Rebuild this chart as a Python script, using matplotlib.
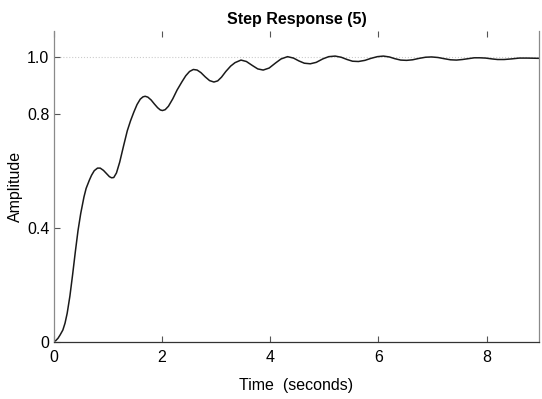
"""
Step response (5) -- scanned textbook figure, redrawn with matplotlib.
"""
import matplotlib
matplotlib.use("Agg")
import matplotlib.pyplot as plt

plt.rcParams.update({
    'font.family': ['Liberation Sans', 'DejaVu Sans'],
    'font.size': 11.5,
})

# Values
time_s = [0.0, 0.04, 0.08, 0.12, 0.17, 0.21, 0.25, 0.3, 0.35, 0.4, 0.45,
          0.5, 0.56, 0.6, 0.66, 0.7, 0.75, 0.81, 0.86, 0.92, 0.98, 1.03,
          1.07, 1.11, 1.16, 1.22, 1.29, 1.36, 1.42, 1.48, 1.54, 1.6, 1.65,
          1.69, 1.74, 1.8, 1.86, 1.92, 1.97, 2.01, 2.06, 2.12, 2.2, 2.28,
          2.37, 2.44, 2.51, 2.58, 2.65, 2.72, 2.8, 2.88, 2.96, 3.03, 3.1,
          3.18, 3.27, 3.35, 3.46, 3.56, 3.67, 3.77, 3.87, 3.98, 4.1, 4.2,
          4.32, 4.43, 4.53, 4.63, 4.74, 4.85, 4.97, 5.08, 5.2, 5.31, 5.42,
          5.52, 5.63, 5.75, 5.86, 5.98, 6.09, 6.2, 6.3, 6.41, 6.52, 6.63,
          6.75, 6.87, 6.98, 7.1, 7.21, 7.33, 7.44, 7.55, 7.66, 7.77, 7.87,
          7.98, 8.1, 8.2, 8.32, 8.45, 8.6, 8.75, 9.0]
amplitude = [0.0, 0.004, 0.012, 0.024, 0.041, 0.065, 0.1, 0.16, 0.235,
             0.315, 0.39, 0.45, 0.508, 0.538, 0.567, 0.584, 0.6, 0.609,
             0.609, 0.601, 0.589, 0.579, 0.575, 0.576, 0.592, 0.63, 0.686,
             0.74, 0.775, 0.805, 0.832, 0.851, 0.859, 0.861, 0.858, 0.848,
             0.834, 0.821, 0.813, 0.811, 0.814, 0.826, 0.852, 0.883, 0.912,
             0.933, 0.948, 0.955, 0.953, 0.944, 0.929, 0.916, 0.911, 0.915,
             0.928, 0.948, 0.967, 0.979, 0.988, 0.983, 0.969, 0.957, 0.953,
             0.96, 0.978, 0.992, 1.0, 0.995, 0.985, 0.977, 0.975, 0.98,
             0.992, 1.0, 1.002, 0.998, 0.99, 0.984, 0.983, 0.987, 0.994, 1.0,
             1.002, 0.999, 0.993, 0.988, 0.987, 0.989, 0.994, 0.998, 0.999,
             0.997, 0.993, 0.989, 0.988, 0.99, 0.993, 0.996, 0.996, 0.995,
             0.992, 0.99, 0.99, 0.992, 0.995, 0.995, 0.994]

x_ticks = [0, 2, 4, 6, 8]
y_ticks = [0, 0.4, 0.8, 1.0]
y_tick_labels = ['0', '0.4', '0.8', '1.0']

fig = plt.figure(figsize=(5.42, 3.99), dpi=100)
ax = fig.add_axes([0.099, 0.1436, 0.896, 0.7787])

ax.plot(time_s, amplitude, color='#1a1a1a', linewidth=1.1)

# faint steady-state reference line
ax.axhline(1.0, color='#cccccc', linestyle=':', linewidth=0.8, zorder=0)

ax.set_xlim(0, 8.97)
ax.set_ylim(0, 1.09)
ax.set_xticks(x_ticks)
ax.set_yticks(y_ticks)
ax.set_yticklabels(y_tick_labels)

ax.tick_params(direction='in', length=4, width=0.8, color='#555555',
               top=True, right=False, labelsize=11.5)
ax.tick_params(axis='x', pad=6)
ax.tick_params(axis='y', pad=3)

# spines: scanned look, left/right gray, bottom dark, top hidden
ax.spines['top'].set_visible(False)
ax.spines['left'].set_color('#8a8a8a')
ax.spines['right'].set_color('#8a8a8a')
ax.spines['bottom'].set_color('#333333')
for s in ax.spines.values():
    s.set_linewidth(0.9)

ax.set_title('Step Response (5)', fontweight='bold', fontsize=11.5, pad=5)
ax.set_xlabel('Time  (seconds)', fontsize=11.5, labelpad=9)
ax.set_ylabel('Amplitude', fontsize=11.5, labelpad=3)

fig.savefig('out.png', dpi=100)
